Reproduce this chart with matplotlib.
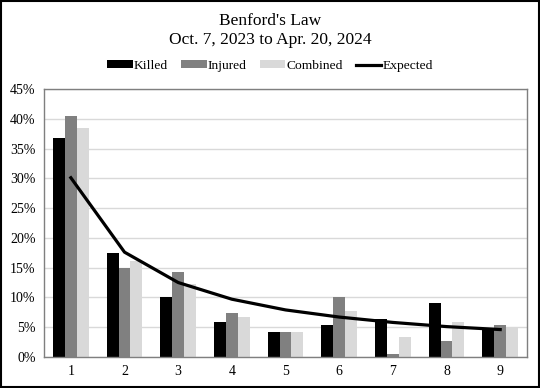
import numpy as np
import matplotlib
matplotlib.use("Agg")
import matplotlib.pyplot as plt
from matplotlib.patches import Rectangle

plt.rcParams['font.family'] = ['Liberation Serif', 'DejaVu Serif']

# leading digit and share of counts per digit
digits = [1, 2, 3, 4, 5, 6, 7, 8, 9]
killed = [36.7, 17.5, 10.1, 5.8, 4.2, 5.3, 6.4, 9.0, 4.8]
injured = [40.4, 14.9, 14.3, 7.3, 4.2, 10.1, 0.5, 2.6, 5.3]
combined = [38.5, 16.1, 12.3, 6.7, 4.2, 7.7, 3.4, 5.8, 5.0]
expected = [30.1, 17.6, 12.5, 9.7, 7.9, 6.7, 5.8, 5.1, 4.6]
yticks = [0, 5, 10, 15, 20, 25, 30, 35, 40, 45]

fig = plt.figure(figsize=(5.4, 3.88), dpi=100)
ax = fig.add_axes([0.0815, 0.080, 0.8945, 0.6906])

x = np.arange(len(digits))
w = 0.22
ax.bar(x - w, killed, w, color='black', label='Killed', zorder=2)
ax.bar(x, injured, w, color='#808080', label='Injured', zorder=2)
ax.bar(x + w, combined, w, color='#d9d9d9', label='Combined', zorder=2)
ax.plot(x, expected, color='black', lw=2.3, label='Expected', zorder=3)

ax.set_xlim(-0.5, len(digits) - 0.5)
ax.set_ylim(0, 45)
ax.set_yticks(yticks)
ax.set_yticklabels([f'{v}%' for v in yticks])
ax.set_xticks(x)
ax.set_xticklabels([str(d) for d in digits])
ax.tick_params(length=0, labelsize=10, pad=6)
ax.yaxis.grid(True, color='#d9d9d9', lw=1, zorder=0)
for s in ax.spines.values():
    s.set_color('#7f7f7f')
    s.set_linewidth(1)

fig.text(0.5, 0.946, "Benford's Law", ha='center', va='center', fontsize=12.5)
fig.text(0.5, 0.897, "Oct. 7, 2023 to Apr. 20, 2024", ha='center', va='center', fontsize=12.5)

handles, labels = ax.get_legend_handles_labels()
order = ['Killed', 'Injured', 'Combined', 'Expected']
hmap = dict(zip(labels, handles))
fig.legend([hmap[k] for k in order], order, loc='center', bbox_to_anchor=(0.5, 0.83),
           ncol=4, frameon=False, fontsize=9.7, handlelength=1.9, handleheight=0.55,
           handletextpad=0.1, columnspacing=0.95)

fig.add_artist(Rectangle((0.002, 0.003), 0.996, 0.994, transform=fig.transFigure,
                         fill=False, edgecolor='black', lw=1.5))

fig.savefig('out.png', dpi=100)
